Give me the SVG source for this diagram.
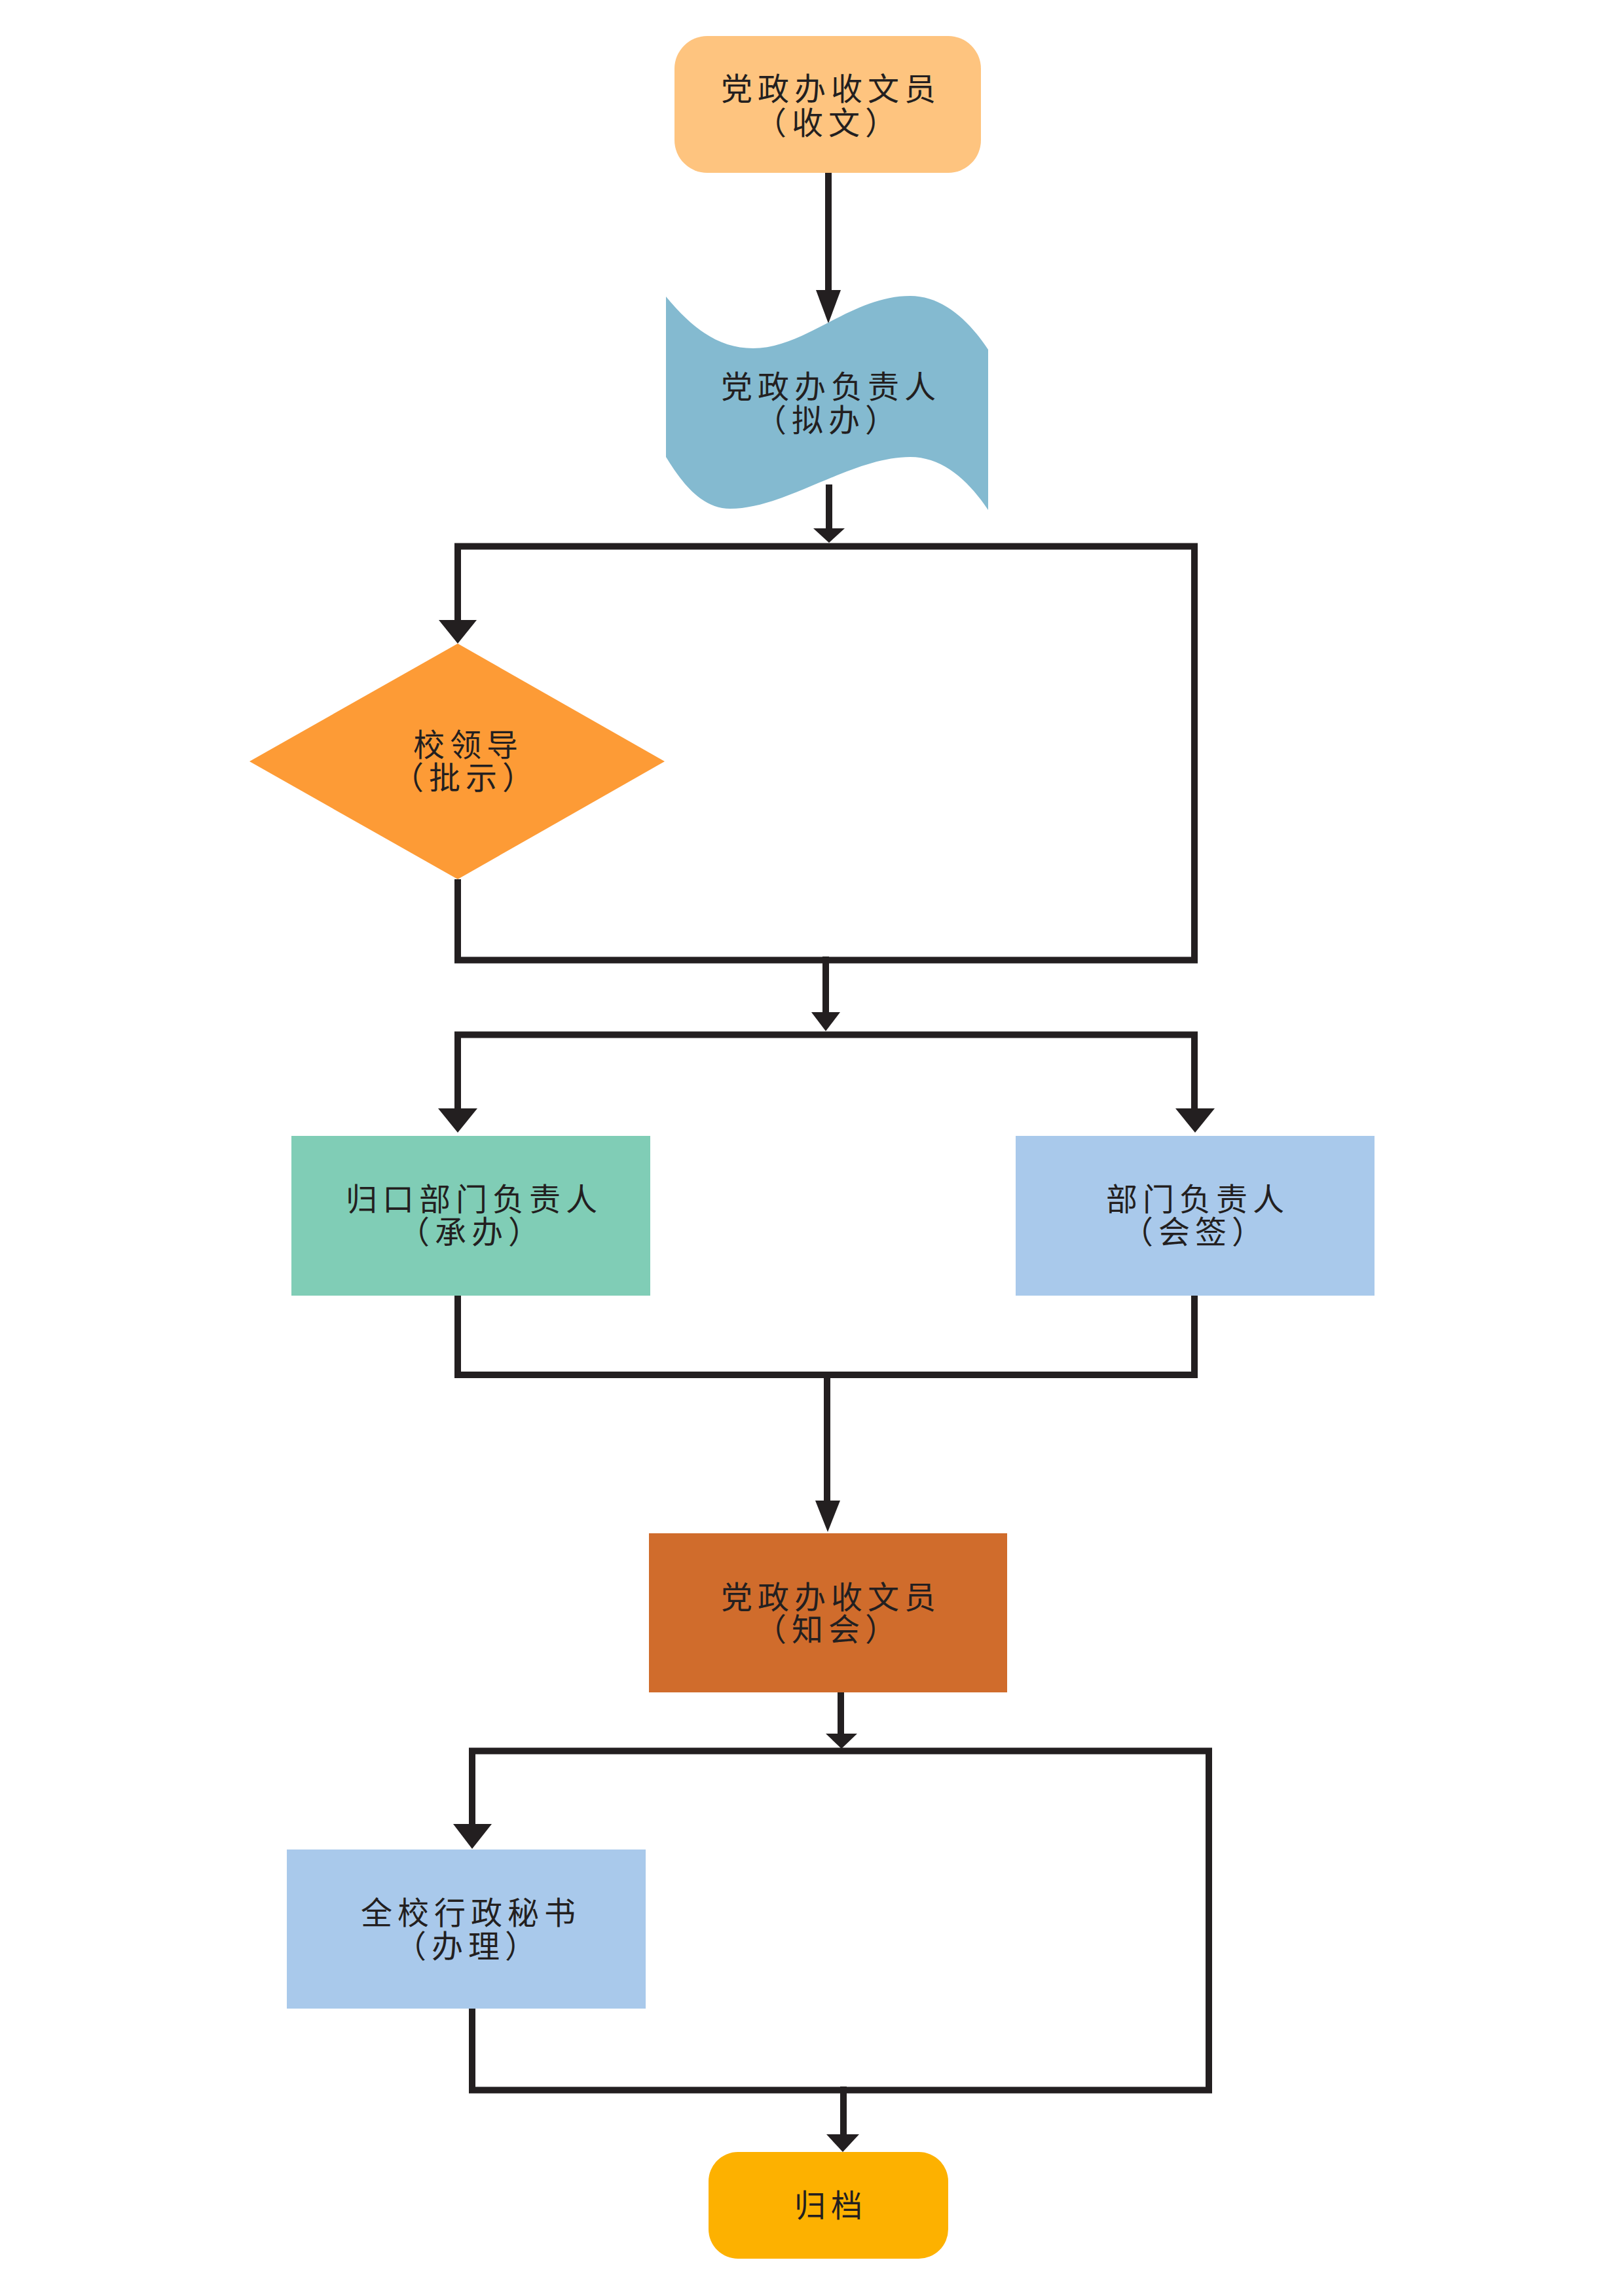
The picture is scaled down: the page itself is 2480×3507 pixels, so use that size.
<svg xmlns="http://www.w3.org/2000/svg" width="2480" height="3507" viewBox="0 0 2480 3507">
<style>
.lbl{font-family:"Noto Sans CJK SC","Noto Sans",sans-serif;font-size:48px;fill:#231F20;text-anchor:middle;letter-spacing:8px}
.ln{fill:none;stroke:#231F20;stroke-width:10;stroke-linejoin:miter;stroke-linecap:square}
.ah{fill:#231F20}
</style>
<rect width="2480" height="3507" fill="#FFFFFF"/>
<g id="connectors">
<path class="ln" d="M1265,264 V450"/>
<polygon class="ah" points="1246,443 1284,443 1265,494"/>
<path class="ln" d="M1266,745 V812"/>
<polygon class="ah" points="1242,807 1290,807 1266,829"/>
<path class="ln" d="M699,950 V834.5 H1824 V1466.5 H699 V1348"/>
<polygon class="ah" points="670,947 728,947 699,983"/>
<path class="ln" d="M1261,1466 V1550"/>
<polygon class="ah" points="1239,1546 1283,1546 1261,1575"/>
<path class="ln" d="M699,1695 V1580.5 H1824 V1695"/>
<polygon class="ah" points="669,1693 729,1693 699,1730"/>
<polygon class="ah" points="1795,1693 1855,1693 1825,1730"/>
<path class="ln" d="M699,1982 V2100 H1824 V1982"/>
<path class="ln" d="M1263,2100 V2295"/>
<polygon class="ah" points="1245,2292 1283,2292 1264,2340"/>
<path class="ln" d="M1284,2588 V2650"/>
<polygon class="ah" points="1261,2648 1309,2648 1285,2671"/>
<path class="ln" d="M721,2790 V2674.5 H1846 V3192.5 H721 V3073"/>
<polygon class="ah" points="692,2786 751,2786 721,2824"/>
<path class="ln" d="M1288,3192 V3262"/>
<polygon class="ah" points="1262,3260 1312,3260 1287,3287"/>
</g>
<g id="node-receive">
<rect x="1030" y="55" width="468" height="209" rx="50" ry="50" fill="#FEC47F"/>
<text class="lbl"><tspan x="1269" y="153">党政办收文员</tspan><tspan x="1265" y="205">（收文）</tspan></text>
</g>
<g id="node-draft">
<path d="M1017,453 C1060,505 1100,532 1150,532 C1230,532 1300,452 1390,452 C1440,452 1480,490 1509,534 L1509,779 C1480,735 1440,698 1390,698 C1300,698 1200,777 1115,777 C1070,777 1040,735 1017,698 Z" fill="#84BAD0"/>
<text class="lbl"><tspan x="1269" y="608">党政办负责人</tspan><tspan x="1265" y="659">（拟办）</tspan></text>
</g>
<g id="node-leader">
<polygon points="699,983 1015,1163 699,1343 381,1163" fill="#FD9B36"/>
<text class="lbl"><tspan x="715" y="1155">校领导</tspan><tspan x="711" y="1205">（批示）</tspan></text>
</g>
<g id="node-dept-main">
<rect x="445" y="1735" width="548" height="244" fill="#80CDB6"/>
<text class="lbl"><tspan x="724" y="1849">归口部门负责人</tspan><tspan x="720" y="1899">（承办）</tspan></text>
</g>
<g id="node-dept-cosign">
<rect x="1551" y="1735" width="548" height="244" fill="#A9C9EB"/>
<text class="lbl"><tspan x="1829" y="1849">部门负责人</tspan><tspan x="1825" y="1899">（会签）</tspan></text>
</g>
<g id="node-notify">
<rect x="991" y="2342" width="547" height="243" fill="#D06C2C"/>
<text class="lbl"><tspan x="1269" y="2457">党政办收文员</tspan><tspan x="1265" y="2506">（知会）</tspan></text>
</g>
<g id="node-secretary">
<rect x="438" y="2825" width="548" height="243" fill="#A9C9EB"/>
<text class="lbl"><tspan x="719" y="2939">全校行政秘书</tspan><tspan x="715" y="2990">（办理）</tspan></text>
</g>
<g id="node-archive">
<rect x="1082" y="3287" width="366" height="163" rx="45" ry="45" fill="#FDB100"/>
<text class="lbl" x="1269" y="3386">归档</text>
</g>
</svg>
